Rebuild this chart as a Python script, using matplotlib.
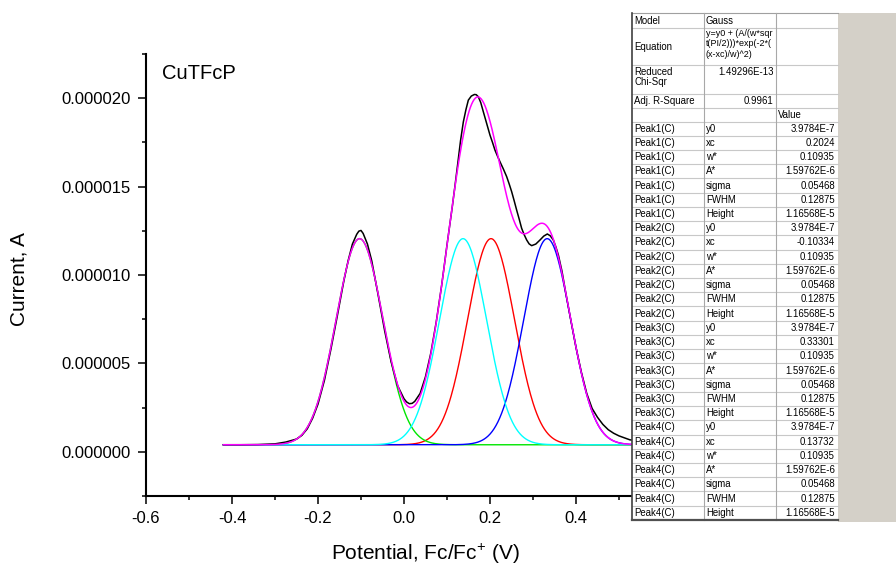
import numpy as np
import matplotlib.pyplot as plt
from matplotlib.ticker import MultipleLocator, FormatStrFormatter, FuncFormatter
from matplotlib.patches import Rectangle

plt.rcParams['font.family'] = ['Liberation Sans', 'DejaVu Sans']
plt.rcParams['mathtext.fontset'] = 'custom'
plt.rcParams['mathtext.rm'] = 'Liberation Sans'

# measured curve (potential in V, current in microamps)
pot_data = [-0.42, -0.38, -0.34, -0.30, -0.275, -0.25, -0.2375, -0.225, -0.2125, -0.20,
            -0.185, -0.17, -0.155, -0.14, -0.13, -0.12, -0.11, -0.105, -0.10, -0.095,
            -0.085, -0.075, -0.06, -0.045, -0.03, -0.015, -0.005, 0.0, 0.006, 0.0125,
            0.019, 0.025, 0.0375, 0.05, 0.0625, 0.075, 0.0875, 0.10, 0.1125, 0.1186,
            0.125, 0.1315, 0.138, 0.144, 0.1496, 0.1565, 0.1636, 0.168, 0.1729, 0.1785,
            0.1845, 0.1925, 0.20, 0.2058, 0.2116, 0.2175, 0.2233, 0.231, 0.2388, 0.2446,
            0.2504, 0.2562, 0.262, 0.268, 0.2736, 0.2795, 0.2853, 0.291, 0.2969, 0.3065,
            0.3163, 0.325, 0.3333, 0.34, 0.3473, 0.353, 0.359, 0.3675, 0.375, 0.3875,
            0.40, 0.4125, 0.425, 0.4375, 0.45, 0.4625, 0.475, 0.4875, 0.50, 0.525,
            0.55, 0.60]
cur_data_uA = [0.40, 0.40, 0.41, 0.45, 0.55, 0.72, 0.93, 1.30, 1.90, 2.70,
               4.05, 5.80, 7.70, 9.65, 10.80, 11.75, 12.30, 12.48, 12.52, 12.35,
               11.75, 10.80, 8.85, 6.85, 5.10, 3.75, 3.25, 3.00, 2.82, 2.72,
               2.74, 2.85, 3.30, 4.25, 5.60, 7.35, 9.40, 11.70, 13.90, 15.05,
               16.30, 17.60, 18.66, 19.35, 19.89, 20.12, 20.21, 20.20, 20.08, 19.75,
               19.23, 18.55, 17.91, 17.50, 17.06, 16.72, 16.40, 16.00, 15.56, 15.15,
               14.71, 14.20, 13.67, 13.15, 12.64, 12.28, 11.98, 11.76, 11.66, 11.75,
               11.98, 12.20, 12.32, 12.22, 11.98, 11.60, 11.13, 10.20, 9.15, 7.50,
               5.90, 4.50, 3.30, 2.45, 1.95, 1.55, 1.25, 1.05, 0.90, 0.68,
               0.58, 0.50]

# Gauss fit parameters (from the fit table)
y0 = 3.9784e-7
peak_names = ['Peak1(C)', 'Peak2(C)', 'Peak3(C)', 'Peak4(C)']
peak_xc = [0.2024, -0.10334, 0.33301, 0.13732]
peak_w = [0.10935, 0.10935, 0.10935, 0.10935]
peak_A = [1.59762e-6, 1.59762e-6, 1.59762e-6, 1.59762e-6]
peak_colors = ['#FF0000', '#00E600', '#0000FF', '#00FFFF']

# table text
top_rows = [('Model', 'Gauss', ''),
            ('Equation', 'y=y0 + (A/(w*sqr\nt(PI/2)))*exp(-2*(\n(x-xc)/w)^2)', ''),
            ('Reduced\nChi-Sqr', '1.49296E-13', ''),
            ('Adj. R-Square', '0.9961', ''),
            ('', '', 'Value')]
param_names = ['y0', 'xc', 'w*', 'A*', 'sigma', 'FWHM', 'Height']
xc_text = ['0.2024', '-0.10334', '0.33301', '0.13732']
other_text = {'y0': '3.9784E-7', 'w*': '0.10935', 'A*': '1.59762E-6', 'sigma': '0.05468',
              'FWHM': '0.12875', 'Height': '1.16568E-5'}


def gauss(x, xc, w, A):
    return A / (w * np.sqrt(np.pi / 2)) * np.exp(-2 * ((x - xc) / w) ** 2)


fig = plt.figure(figsize=(8.96, 5.69), dpi=100)
ax = fig.add_axes([146 / 896, 1 - 496 / 569, (705 - 146) / 896, (496 - 54) / 569])

xfit = np.linspace(-0.42, 0.62, 700)
total = np.full_like(xfit, y0)
for xc, w, A, c in zip(peak_xc, peak_w, peak_A, peak_colors):
    g = gauss(xfit, xc, w, A)
    total += g
    ax.plot(xfit, y0 + g, color=c, lw=1.0)

ax.plot(pot_data, np.array(cur_data_uA) * 1e-6, color='black', lw=1.1)
ax.plot(xfit, total, color='#FF00FF', lw=1.1)

ax.set_xlim(-0.6, 0.7)
ax.set_ylim(-2.5e-6, 22.5e-6)
ax.xaxis.set_major_locator(MultipleLocator(0.2))
ax.xaxis.set_minor_locator(MultipleLocator(0.1))
ax.yaxis.set_major_locator(MultipleLocator(5e-6))
ax.yaxis.set_minor_locator(MultipleLocator(2.5e-6))
# the 0.6 label sits under the fit table
ax.xaxis.set_major_formatter(FuncFormatter(lambda v, p: '' if v > 0.5 else f'{v:.1f}'))
ax.yaxis.set_major_formatter(FormatStrFormatter('%.6f'))
ax.tick_params(which='major', direction='out', length=6, width=1.1, labelsize=12, pad=5)
ax.tick_params(which='minor', direction='out', length=3, width=1.1)
ax.spines[['top', 'right']].set_visible(False)
for s in ['left', 'bottom']:
    ax.spines[s].set_linewidth(1.5)

ax.set_xlabel(r'Potential, Fc/Fc$^{+}$ (V)', fontsize=15)
ax.xaxis.set_label_coords(0.5, -0.102)
ax.set_ylabel('Current, A', fontsize=15)
ax.yaxis.set_label_coords(-0.21, 0.49)
ax.text(0.0286, 0.943, 'CuTFcP', transform=ax.transAxes, fontsize=14.5, va='baseline')

# fit report table drawn on top (pixel coordinates)
tax = fig.add_axes([0, 0, 1, 1], zorder=5)
tax.set_xlim(0, 896)
tax.set_ylim(569, 0)
tax.axis('off')
tax.add_patch(Rectangle((838, 13), 58, 509, fc='#D4D0C8', ec='none'))
tax.add_patch(Rectangle((632, 13), 206, 508, fc='white', ec='none'))

edges = [13, 28, 65, 94, 107.5, 121.5]
rows = list(top_rows)
for i, name in enumerate(peak_names):
    for p in param_names:
        val = xc_text[i] if p == 'xc' else other_text[p]
        rows.append((name, p, val))
while len(edges) < len(rows) + 1:
    edges.append(edges[-1] + 14.23)

for e in edges[1:-1]:
    tax.plot([632, 838], [e, e], color='#C8C8C8', lw=0.8)
tax.plot([632, 838], [13, 13], color='#A0A0A0', lw=0.8)
for cx in [704, 776]:
    tax.plot([cx, cx], [13, edges[-1]], color='#A8A8A8', lw=0.8)
tax.plot([632, 632], [13, edges[-1]], color='#404040', lw=1.2)
tax.plot([632, 838], [edges[-1], edges[-1]], color='#505050', lw=1.6)

fs = 6.9
for r, (c1, c2, c3) in enumerate(rows):
    top, bot = edges[r], edges[r + 1]
    mid = (top + bot) / 2
    if r == 1:
        tax.text(634.5, mid, c1, fontsize=fs, va='center')
        tax.text(705.5, top + 1.0, c2, fontsize=6.5, va='top', linespacing=1.2)
    elif r == 2:
        tax.text(634.5, top + 2, c1, fontsize=fs, va='top', linespacing=1.05)
        tax.text(773.5, top + 2, c2, fontsize=fs, va='top', ha='right')
    elif r == 3:
        tax.text(634.5, mid, c1, fontsize=fs, va='center')
        tax.text(773.5, mid, c2, fontsize=fs, va='center', ha='right')
    elif r == 4:
        tax.text(778, mid, c3, fontsize=fs, va='center')
    else:
        tax.text(634.5, mid, c1, fontsize=fs, va='center')
        tax.text(706, mid, c2, fontsize=fs, va='center')
        tax.text(835, mid, c3, fontsize=fs, va='center', ha='right')

fig.savefig('out.png', dpi=100)
